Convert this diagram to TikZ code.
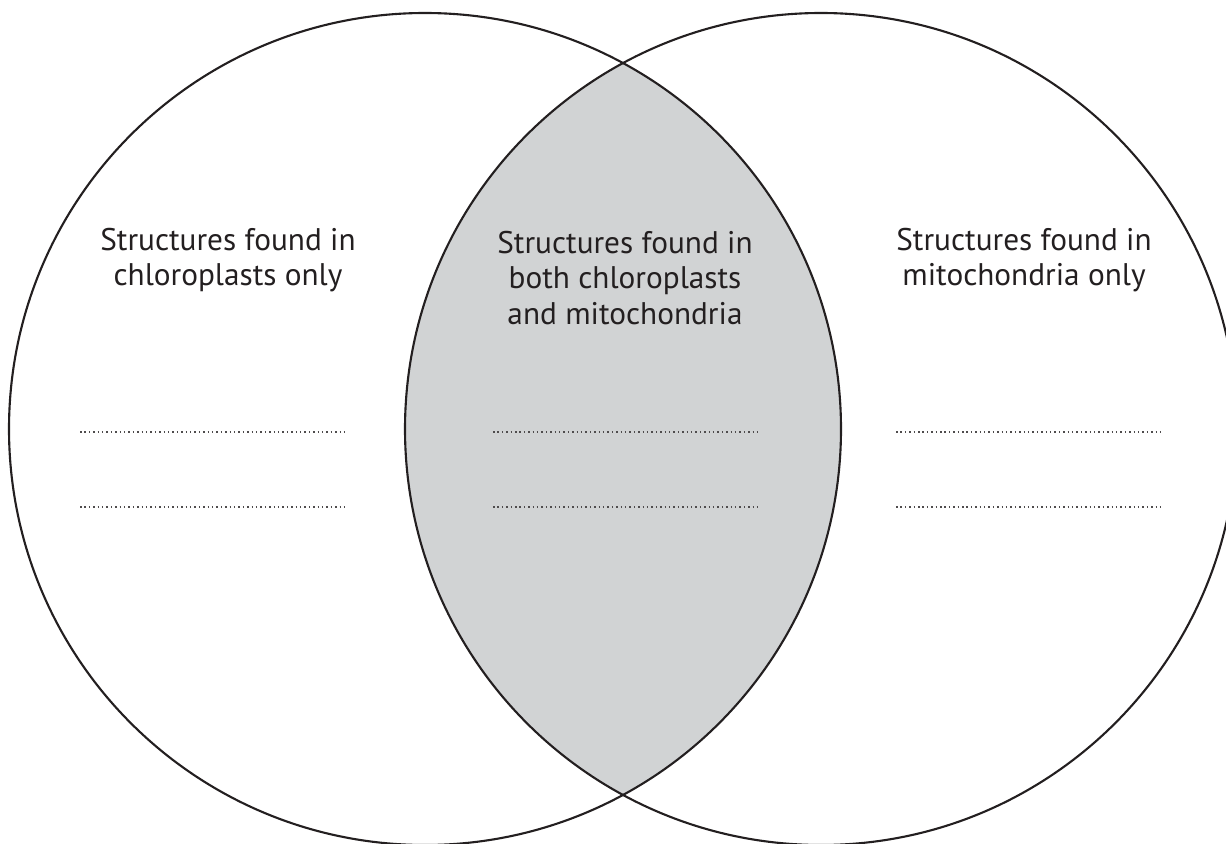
\documentclass[tikz,border=0pt]{standalone}
\usepackage{fontspec}
\setmainfont{PT Sans}
\usepackage{tikz}
\usetikzlibrary{positioning}
\definecolor{ink}{RGB}{35,31,32}
\definecolor{lensgray}{RGB}{209,211,212}

\begin{document}
\begin{tikzpicture}[
        x=0.02cm, y=-0.02cm,
        ring/.style={draw=ink, line width=1.2pt},
        setlabel/.style={align=center, text=ink, inner sep=0pt,
          font=\fontsize{17.8}{20.3}\selectfont},
        answer/.style={draw=ink!80, line width=0.035cm,
          dash pattern=on 0.03cm off 0.058cm},
      ]
      \clip (0,0) rectangle (1226,844);
      \useasboundingbox (0,0) rectangle (1226,844);
      \def\rad{416}
      \coordinate (cl) at (425,429);
      \coordinate (cr) at (821,429);
      \begin{scope}
        \clip (cl) circle (\rad);
        \fill[lensgray] (cr) circle (\rad);
      \end{scope}
      \draw[ring] (cl) circle (\rad);
      \draw[ring] (cr) circle (\rad);
      \node[setlabel] (chloro) at (228,260) {Structures found in\\chloroplasts only};
      \node[setlabel] (both) at (625,278) {Structures found in\\both chloroplasts\\and mitochondria};
      \node[setlabel] (mito) at (1024,260) {Structures found in\\mitochondria only};
      \foreach\x in {80,493,896}{
        \foreach\y in {432,507}{\draw[answer] (\x,\y) -- ++(264,0);}
      }
    \end{tikzpicture}
\end{document}
